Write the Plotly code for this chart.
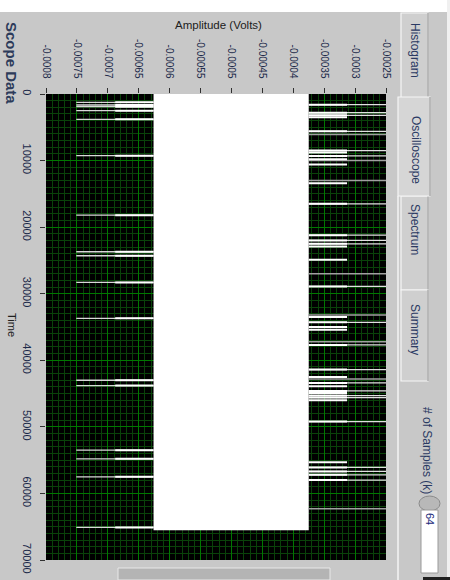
import plotly.graph_objects as go

# ---------------- data ----------------
amp_ticks = [-0.0008, -0.00075, -0.0007, -0.00065, -0.0006, -0.00055, -0.0005,
             -0.00045, -0.0004, -0.00035, -0.0003, -0.00025]
amp_labels = ["-0.0008", "-0.00075", "-0.0007", "-0.00065", "-0.0006", "-0.00055",
              "-0.0005", "-0.00045", "-0.0004", "-0.00035", "-0.0003", "-0.00025"]
time_ticks = [0, 10000, 20000, 30000, 40000, 50000, 60000, 70000]
time_labels = ["0", "10000", "20000", "30000", "40000", "50000", "60000", "70000"]

n_samples = 65536
band_low = -0.000626
band_high = -0.000375

left_spike_times = [1250, 1650, 1900, 2500, 3800, 9260, 18200, 23700, 24300, 28300,
                    33700, 43000, 43800, 53500, 54800, 57500, 65100]
left_peak = -0.000751
left_inner = -0.000688

right_short_times = [3500, 8800, 9800, 10600, 13400, 22900, 24900, 33500, 35000,
                     35400, 42500, 43900, 44900, 46000, 55300]
right_long_times = [1600, 2800, 3200, 5600, 8500, 9300, 16500, 21200, 22000, 22500,
                    28900, 34300, 37700, 41400, 43400, 44600, 45300, 45600, 49200,
                    56100, 56700, 57200, 58000]
right_faint_times = [6100, 10000, 13000, 27000, 33200, 37200, 42800, 62300]
right_inner = -0.000313
right_peak = -0.00024

# ---------------- helpers ----------------
X0, X1, Y0, Y1 = 46, 386, 94, 560


def px(x):
    return (x - X0) / (X1 - X0)


def py(y):
    return (Y1 - y) / (Y1 - Y0)


def segs(times, a, b):
    xs, ys = [], []
    for t in times:
        xs += [a, b, None]
        ys += [t, t, None]
    return xs, ys


fig = go.Figure()

# white band of the dense signal
fig.add_trace(go.Scatter(
    x=[band_low, band_high, band_high, band_low, band_low],
    y=[0, 0, n_samples - 1, n_samples - 1, 0],
    fill="toself", fillcolor="white", mode="lines",
    line=dict(color="white", width=0), hoverinfo="skip", showlegend=False))

# left excursions
xs, ys = segs(left_spike_times, band_low, left_peak)
fig.add_trace(go.Scatter(x=xs, y=ys, mode="lines", line=dict(color="#d8d8d8", width=1.3),
                         hoverinfo="skip", showlegend=False))
xs, ys = segs(left_spike_times, band_low, left_inner)
fig.add_trace(go.Scatter(x=xs, y=ys, mode="lines", line=dict(color="white", width=2),
                         hoverinfo="skip", showlegend=False))

# right excursions
xs, ys = segs(right_faint_times, band_high, right_peak)
fig.add_trace(go.Scatter(x=xs, y=ys, mode="lines", line=dict(color="#a0a0a0", width=1.5),
                         hoverinfo="skip", showlegend=False))
xs, ys = segs(right_long_times, band_high, right_peak)
fig.add_trace(go.Scatter(x=xs, y=ys, mode="lines", line=dict(color="#e0e0e0", width=1.3),
                         hoverinfo="skip", showlegend=False))
xs, ys = segs(right_long_times + right_short_times, band_high, right_inner)
fig.add_trace(go.Scatter(x=xs, y=ys, mode="lines", line=dict(color="white", width=2),
                         hoverinfo="skip", showlegend=False))

PANEL = "#c8c8c8"
TXT = "#2b3a63"
FONT = "Liberation Sans"

shapes = []
# top white strip and right edge
shapes.append(dict(type="rect", xref="paper", yref="paper", x0=px(0), x1=px(450),
                   y0=py(12), y1=py(0), fillcolor="white", line=dict(width=0)))
shapes.append(dict(type="rect", xref="paper", yref="paper", x0=px(447), x1=px(450),
                   y0=py(580), y1=py(0), fillcolor="#f0f0f0", line=dict(width=0)))
# tab control border
shapes.append(dict(type="line", xref="paper", yref="paper", x0=px(398), x1=px(398),
                   y0=py(196), y1=py(580), line=dict(color="#f4f4f4", width=1.5)))
# tabs
for (ya, yb, sel) in [(13, 99, False), (196, 290, False), (290, 381, False), (97, 196, True)]:
    xa = 398 if sel else 401
    xb = 430 if sel else 428
    shapes.append(dict(type="rect", xref="paper", yref="paper", x0=px(xa), x1=px(xb),
                       y0=py(yb), y1=py(ya),
                       fillcolor="#d6d6d6" if sel else "#cfcfcf",
                       line=dict(color="#f6f6f6", width=1.2)))
    shapes.append(dict(type="line", xref="paper", yref="paper", x0=px(xb), x1=px(xb),
                       y0=py(yb), y1=py(ya), line=dict(color="#9a9a9a", width=1.2)))
# spinner and numeric box
shapes.append(dict(type="circle", xref="paper", yref="paper", x0=px(419), x1=px(440),
                   y0=py(511), y1=py(496), fillcolor="#b8b8b8", line=dict(color="#8a8a8a", width=1)))
shapes.append(dict(type="rect", xref="paper", yref="paper", x0=px(421), x1=px(438),
                   y0=py(573), y1=py(510), fillcolor="white", line=dict(color="#9a9a9a", width=1)))
# bottom scrollbar and black line
shapes.append(dict(type="rect", xref="paper", yref="paper", x0=px(118), x1=px(330),
                   y0=py(580), y1=py(568), fillcolor="#b4b4b4",
                   line=dict(color="#e8e8e8", width=1)))
shapes.append(dict(type="rect", xref="paper", yref="paper", x0=px(423), x1=px(450),
                   y0=py(580), y1=py(577), fillcolor="#202020", line=dict(width=0)))

annotations = [
    dict(text="<b>Scope Data</b>", x=px(12), y=py(63), textangle=90,
         font=dict(size=15, color="#2d3b5a", family=FONT)),
    dict(text="Amplitude (Volts)", x=px(218), y=py(25),
         font=dict(size=11.5, color="#202020", family=FONT)),
    dict(text="Time", x=px(12), y=py(325), textangle=90,
         font=dict(size=11, color="#202020", family=FONT)),
    dict(text="Histogram", x=px(415), y=py(50), textangle=90,
         font=dict(size=12, color=TXT, family=FONT)),
    dict(text="Oscilloscope", x=px(416), y=py(150), textangle=90,
         font=dict(size=12, color=TXT, family=FONT)),
    dict(text="Spectrum", x=px(415), y=py(229), textangle=90,
         font=dict(size=12, color=TXT, family=FONT)),
    dict(text="Summary", x=px(415), y=py(329), textangle=90,
         font=dict(size=12, color=TXT, family=FONT)),
    dict(text="# of Samples (k)", x=px(427), y=py(450), textangle=90,
         font=dict(size=12, color=TXT, family=FONT)),
    dict(text="64", x=px(430), y=py(519), textangle=90,
         font=dict(size=11, color="#1a2a7a", family=FONT)),
]
for a in annotations:
    a.update(xref="paper", yref="paper", showarrow=False, xanchor="center", yanchor="middle")

fig.update_layout(
    width=450, height=580,
    margin=dict(l=X0, r=450 - X1, t=Y0, b=580 - Y1, autoexpand=False),
    paper_bgcolor=PANEL, plot_bgcolor="black",
    showlegend=False,
    shapes=shapes, annotations=annotations,
    xaxis=dict(range=[-0.0008, -0.00025], side="top", automargin=False,
               tickmode="array", tickvals=amp_ticks, ticktext=amp_labels,
               tickangle=90, ticks="outside", ticklen=5, tickcolor="#303030",
               tickfont=dict(size=10, color="#1c2a4a", family=FONT),
               ticklabelstandoff=6,
               showgrid=True, gridcolor="#007800", gridwidth=1,
               minor=dict(tickmode="linear", tick0=-0.0008, dtick=0.00001,
                          showgrid=True, gridcolor="#0a420a", gridwidth=1),
               zeroline=False, showline=False, fixedrange=True),
    yaxis=dict(range=[70000, 0], automargin=False,
               tickmode="array", tickvals=time_ticks, ticktext=time_labels,
               tickangle=90, ticks="outside", ticklen=5, tickcolor="#303030",
               tickfont=dict(size=11, color="#1c2a4a", family=FONT),
               ticklabelstandoff=4,
               showgrid=True, gridcolor="#007800", gridwidth=1,
               minor=dict(tickmode="linear", tick0=0, dtick=1000,
                          showgrid=True, gridcolor="#0a420a", gridwidth=1),
               zeroline=False, showline=False, fixedrange=True),
)

fig.write_html("out.html", config={"displayModeBar": False},
               post_script="document.body.style.margin='0';document.body.style.overflow='hidden';")
